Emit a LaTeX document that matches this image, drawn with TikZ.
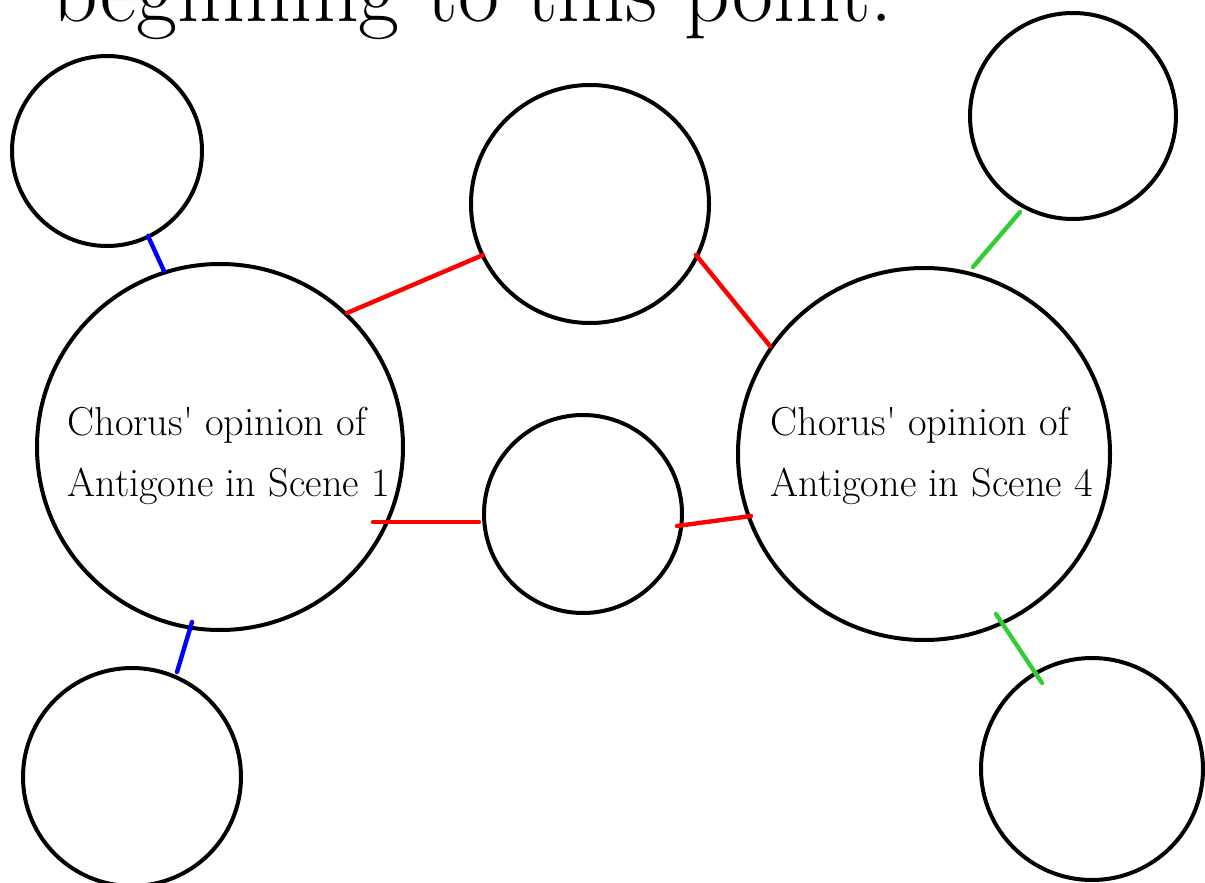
\documentclass[tikz,border=0pt]{standalone}
\usetikzlibrary{calc}
\begin{document}
\begin{tikzpicture}[x=0.5pt,y=-0.5pt,
  bubble/.style={circle,draw=black,line width=2pt,inner sep=0pt,outer sep=0pt},
  conn/.style={line width=2.2pt,line cap=round},
  redc/.style={conn,draw=red},
  bluec/.style={conn,draw=blue},
  greenc/.style={conn,draw=limegreen},
  lbl/.style={anchor=base west,inner sep=0pt,align=left,font=\fontsize{20.2}{30.5}\selectfont}
]
\definecolor{limegreen}{RGB}{50,205,50}
\useasboundingbox (0,0) rectangle (1205,883);
% title (cut off at top)
\node[anchor=base west,inner sep=0pt,font=\fontsize{44.6}{50}\selectfont] (title) at (52,22) {beginning to this point.};
% circles
\node[bubble,minimum size=95pt] (TL) at (107,151) {};
\node[bubble,minimum size=183pt] (L) at (220,447) {};
\node[bubble,minimum size=119pt] (TM) at (590,204) {};
\node[bubble,minimum size=99pt] (M) at (583,514) {};
\node[bubble,minimum size=186pt] (R) at (924,454) {};
\node[bubble,minimum size=103pt] (TR) at (1073,116) {};
\node[bubble,minimum size=109pt] (BL) at (132,777) {};
\node[bubble,minimum size=111pt] (BR) at (1092,769) {};
% texts (base = last line's baseline)
\node[lbl] (Ltext) at (67,496) {Chorus\textquotesingle{} opinion of\\Antigone in Scene 1};
\node[lbl] (Rtext) at (770,496) {Chorus\textquotesingle{} opinion of\\Antigone in Scene 4};
% connectors
\draw[bluec] ($(TL.center)+(41,85)$) -- ($(L.center)+(-56,-176)$);
\draw[bluec] ($(L.center)+(-28,175)$) -- ($(BL.center)+(45,-105)$);
\draw[redc] ($(L.center)+(127,-134)$) -- ($(TM.center)+(-107,51)$);
\draw[redc] ($(TM.center)+(106,51)$) -- ($(R.center)+(-154,-108)$);
\draw[redc] ($(L.center)+(153,75)$) -- ($(M.center)+(-104,8)$);
\draw[redc] ($(M.center)+(94,12)$) -- ($(R.center)+(-173,62)$);
\draw[greenc] ($(TR.center)+(-53,96)$) -- ($(R.center)+(49,-187)$);
\draw[greenc] ($(R.center)+(72,160)$) -- ($(BR.center)+(-50,-86)$);
\end{tikzpicture}
\end{document}
